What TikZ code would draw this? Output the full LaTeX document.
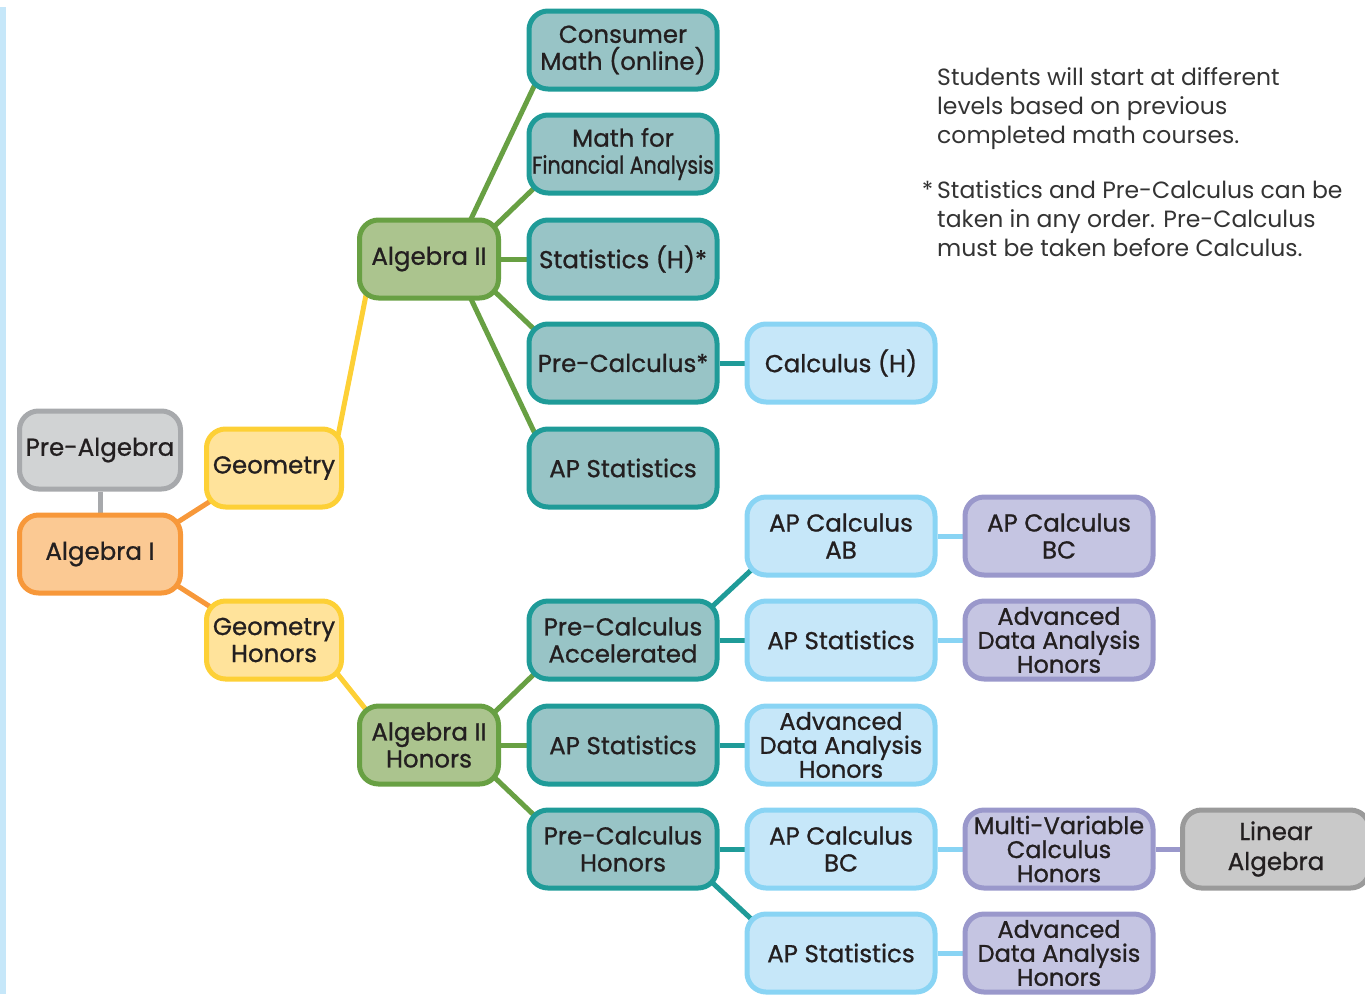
\documentclass[tikz,border=0pt]{standalone}
\usepackage{fontspec}
\usepackage{graphicx}
\setmainfont{Poppins}
\newfontfamily\medfont{Poppins}[FakeBold=0.9]
\usetikzlibrary{calc}
\definecolor{txt}{HTML}{231F20}
\definecolor{notec}{HTML}{333333}
\definecolor{grayF}{HTML}{D1D3D4}\definecolor{grayB}{HTML}{A7A9AC}
\definecolor{oraF}{HTML}{FBC993}\definecolor{oraB}{HTML}{F7983A}
\definecolor{yelF}{HTML}{FFE39B}\definecolor{yelB}{HTML}{FDD036}
\definecolor{greF}{HTML}{ABC48E}\definecolor{greB}{HTML}{68A043}
\definecolor{teaF}{HTML}{98C4C6}\definecolor{teaB}{HTML}{1F9B98}
\definecolor{lbF}{HTML}{C6E7F9}\definecolor{lbB}{HTML}{89D4F4}
\definecolor{purF}{HTML}{C5C5E2}\definecolor{purB}{HTML}{9A98CB}
\definecolor{laF}{HTML}{C9C9C9}\definecolor{laB}{HTML}{9A9A9A}
\pgfdeclarelayer{bg}\pgfsetlayers{bg,main}
\tikzset{
  box/.style={rectangle, rounded corners=19pt, line width=5pt, minimum width=188pt,
    minimum height=78pt, align=center, inner sep=0pt, text=txt,
    font=\medfont\fontsize{24.5}{27}\selectfont},
  tri/.style={font=\medfont\fontsize{24}{24}\selectfont},
  graybox/.style={box, fill=grayF, draw=grayB, minimum width=161pt},
  orabox/.style={box, fill=oraF, draw=oraB, minimum width=161pt},
  yelbox/.style={box, fill=yelF, draw=yelB, minimum width=135pt},
  grebox/.style={box, fill=greF, draw=greB, minimum width=139pt},
  teabox/.style={box, fill=teaF, draw=teaB},
  lbbox/.style={box, fill=lbF, draw=lbB},
  purbox/.style={box, fill=purF, draw=purB},
  labox/.style={box, fill=laF, draw=laB, minimum width=187pt, font=\medfont\fontsize{24.5}{30}\selectfont},
  link/.style={line width=5pt},
  note/.style={anchor=north west, align=left, inner sep=0pt, text=notec,
    font=\fontsize{23.5}{29}\selectfont}
}
\begin{document}
\begin{tikzpicture}[x=1pt,y=-1pt]
\useasboundingbox (0,0) rectangle (1365,994);
\fill[lbF] (0,7) rectangle (6,994);
% nodes
\node[graybox] (prealg) at (100,450) {Pre-Algebra};
\node[orabox] (alg1) at (100,554) {Algebra I};
\node[yelbox] (geo) at (274,468) {Geometry};
\node[yelbox] (geoh) at (274,640) {Geometry\\Honors};
\node[grebox] (alg2) at (429,259) {Algebra II};
\node[grebox] (alg2h) at (429,745) {Algebra II\\Honors};
\node[teabox] (cm) at (623,50) {Consumer\\Math (online)};
\node[teabox] (mfa) at (623,154) {Math for\\\scalebox{0.84}[1]{Financial Analysis}};
\node[teabox] (stat) at (623,259) {Statistics (H)*};
\node[teabox] (pc) at (623,363) {Pre-Calculus*};
\node[teabox] (aps1) at (623,468) {AP Statistics};
\node[teabox] (pca) at (623,640) {Pre-Calculus\\Accelerated};
\node[teabox] (aps2) at (623,745) {AP Statistics};
\node[teabox] (pch) at (623,849) {Pre-Calculus\\Honors};
\node[lbbox] (calch) at (841,363) {Calculus (H)};
\node[lbbox] (apcab) at (841,536) {AP Calculus\\AB};
\node[lbbox] (aps3) at (841,640) {AP Statistics};
\node[lbbox,tri] (ada1) at (841,745) {Advanced\\Data Analysis\\Honors};
\node[lbbox] (apcbc) at (841,849) {AP Calculus\\BC};
\node[lbbox] (aps4) at (841,953) {AP Statistics};
\node[purbox] (apcbc2) at (1059,536) {AP Calculus\\BC};
\node[purbox,tri] (ada2) at (1059,640) {Advanced\\Data Analysis\\Honors};
\node[purbox,tri] (mv) at (1059,849) {Multi-Variable\\Calculus\\Honors};
\node[purbox,tri] (ada3) at (1059,953) {Advanced\\Data Analysis\\Honors};
\node[labox] (la) at (1276,849) {Linear\\Algebra};
% notes
\node[note] (n1) at (937,67.5) {Students will start at different\\levels based on previous\\completed math courses.};
\node[note] (n2) at (937,180.5) {\llap{*\,}Statistics and Pre-Calculus can be\\taken in any order. Pre-Calculus\\must be taken before Calculus.};
% connectors
\begin{pgfonlayer}{bg}
\draw[link, grayB] (prealg) -- (alg1);
\draw[link, oraB] ($(alg1.center)+(48,-13)$) -- ($(geo.center)+(-32,13)$);
\draw[link, oraB] ($(alg1.center)+(48,13)$) -- ($(geoh.center)+(-32,-13)$);
\draw[link, yelB] ($(geo.center)+(58,-2)$) -- ($(alg2.center)+(-57,6)$);
\draw[link, yelB] ($(geoh.center)+(34,-3)$) -- ($(alg2h.center)+(-33,2)$);
\draw[link, greB] ($(alg2.center)+(23,0)$) -- ($(cm.center)+(-76,9)$);
\draw[link, greB] ($(alg2.center)+(41,-9)$) -- ($(mfa.center)+(-64,10)$);
\draw[link, greB] (alg2) -- (stat);
\draw[link, greB] ($(alg2.center)+(41,9)$) -- ($(pc.center)+(-64,-10)$);
\draw[link, greB] ($(alg2.center)+(23,0)$) -- ($(aps1.center)+(-76,-9)$);
\draw[link, teaB] (pc) -- (calch);
\draw[link, greB] ($(alg2h.center)+(41,-9)$) -- ($(pca.center)+(-64,10)$);
\draw[link, greB] (alg2h) -- (aps2);
\draw[link, greB] ($(alg2h.center)+(41,9)$) -- ($(pch.center)+(-64,-10)$);
\draw[link, teaB] ($(pca.center)+(64,-10)$) -- ($(apcab.center)+(-64,10)$);
\draw[link, teaB] (pca) -- (aps3);
\draw[link, teaB] (aps2) -- (ada1);
\draw[link, teaB] (pch) -- (apcbc);
\draw[link, teaB] ($(pch.center)+(64,10)$) -- ($(aps4.center)+(-64,-10)$);
\draw[link, lbB] (apcab) -- (apcbc2);
\draw[link, lbB] (aps3) -- (ada2);
\draw[link, lbB] (apcbc) -- (mv);
\draw[link, lbB] (aps4) -- (ada3);
\draw[link, purB] (mv) -- (la);
\end{pgfonlayer}
\end{tikzpicture}
\end{document}
